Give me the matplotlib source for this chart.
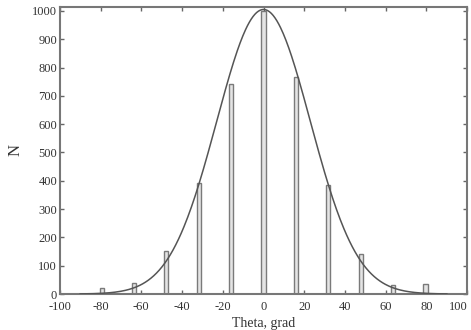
import numpy as np
import matplotlib.pyplot as plt

# histogram of theta (grad)
theta = [-79.5, -63.6, -47.7, -31.8, -15.9, 0.0, 15.9, 31.8, 47.7, 63.6, 79.5]
counts = [20, 40, 153, 392, 742, 1000, 766, 386, 142, 33, 37]

# gaussian fit parameters
fit_amp = 1005
fit_sigma = 23.0
fit_range = (-90, 90)

plt.rcParams["font.family"] = ["Liberation Serif", "DejaVu Serif"]
plt.rcParams["axes.unicode_minus"] = False

fig = plt.figure(figsize=(4.71, 3.30), dpi=100)
ax = fig.add_axes([0.127, 0.109, 0.865, 0.870])

ax.bar(theta, counts, width=2.0, color="#e4e4e4", edgecolor="#7a7a7a", linewidth=1.0, zorder=2)

xs = np.linspace(fit_range[0], fit_range[1], 400)
ax.plot(xs, fit_amp * np.exp(-xs**2 / (2 * fit_sigma**2)), color="#555555", lw=1.1, zorder=3)

ax.set_xlim(-100, 100)
ax.set_ylim(0, 1014)
ax.set_xticks(range(-100, 101, 20))
ax.set_yticks(range(0, 1001, 100))

ax.tick_params(direction="in", top=True, right=True, labelright=False,
               length=3, width=1.0, color="#666666", labelsize=9, labelcolor="#333333")
ax.tick_params(axis="x", pad=5)
ax.tick_params(axis="y", pad=2)
# keep the last x label inside the figure
ax.get_xticklabels()[-1].set_horizontalalignment("right")
for s in ax.spines.values():
    s.set_color("#777777")
    s.set_linewidth(1.5)

ax.set_xlabel("Theta, grad", fontsize=10, color="#333333", labelpad=3)
ax.set_ylabel("N", fontsize=12, color="#333333", labelpad=6)

fig.savefig("out.png", dpi=100)
